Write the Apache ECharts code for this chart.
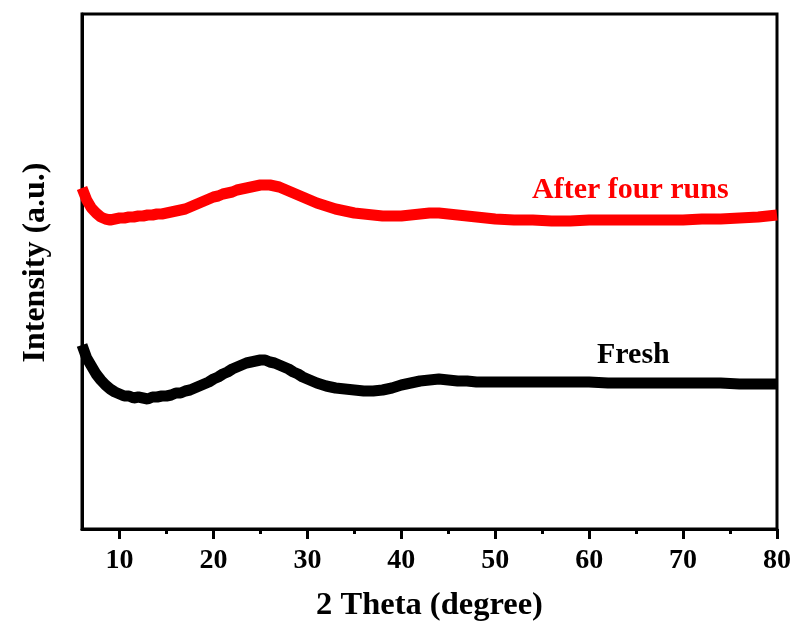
<!DOCTYPE html>
<html>
<head>
<meta charset="utf-8">
<script src="https://cdn.jsdelivr.net/npm/echarts@6/dist/echarts.min.js"></script>
<style>html,body{margin:0;padding:0;background:#fff;}#c{width:795px;height:628px;}</style>
</head>
<body>
<div id="c"></div>
<script>
// 2 Theta (degree)
const freshX = [6,6.5,7,7.5,8,8.5,9,9.5,10,10.5,11,11.5,12,12.5,13,13.5,14,14.5,15,15.5,16,16.5,17,17.5,18,18.5,19,19.5,20,20.5,21,21.5,22,22.5,23,23.5,24,24.5,25,25.5,26,26.5,27,27.5,28,28.5,29,29.5,30,30.5,31,32,33,34,35,36,37,38,39,40,41,42,43,44,45,46,47,48,50,52,54,56,58,60,62,64,66,68,70,72,74,76,78,80];
const freshY = [184,171,163,155,149,144,140,137,135,133,133,131,132,131,130,132,132,133,133,134,136,136,138,139,141,143,145,147,150,152,155,157,160,162,164,166,167,168,169,169,167,166,164,162,160,157,155,152,150,148,146,143,141,140,139,138,138,139,141,144,146,148,149,150,149,148,148,147,147,147,147,147,147,147,146,146,146,146,146,146,146,145,145,145];
const afterX = [6,6.5,7,7.5,8,8.5,9,9.5,10,10.5,11,11.5,12,12.5,13,13.5,14,14.5,15,15.5,16,16.5,17,17.5,18,18.5,19,19.5,20,20.5,21,21.5,22,22.5,23,23.5,24,24.5,25,25.5,26,26.5,27,27.5,28,28.5,29,29.5,30,30.5,31,32,33,34,35,36,37,38,39,40,41,42,43,44,45,46,47,48,49,50,52,54,56,58,60,62,64,66,68,70,72,74,76,78,80];
const afterY = [341,329,321,316,312,310,309,310,311,311,312,312,313,313,314,314,315,315,316,317,318,319,320,322,324,326,328,330,332,333,335,336,337,339,340,341,342,343,344,344,344,343,342,340,338,336,334,332,330,328,326,323,320,318,316,315,314,313,313,313,314,315,316,316,315,314,313,312,311,310,309,309,308,308,309,309,309,309,309,309,310,310,311,312,314];
const majorTicks = [10,20,30,40,50,60,70,80];
const minorTicks = [15,25,35,45,55,65,75];
const seriesNames = ['Fresh','After four runs'];

const FONT = '"Liberation Serif","Times New Roman",serif';
const pair = (xs, ys) => xs.map((x, i) => [x, ys[i]]);

const chart = echarts.init(document.getElementById('c'), null, {renderer: 'canvas'});
chart.setOption({
  animation: false,
  backgroundColor: '#fff',
  grid: {left: 82, right: 18, top: 14, bottom: 99, show: true, borderColor: '#000', borderWidth: 3, backgroundColor: 'transparent'},
  xAxis: [{
    type: 'value', min: 6, max: 80, position: 'bottom',
    axisLine: {show: true, lineStyle: {color: '#000', width: 3}},
    axisTick: {show: true, customValues: majorTicks, length: 10, inside: false, lineStyle: {color: '#000', width: 3}},
    axisLabel: {show: true, customValues: majorTicks, margin: 18, color: '#000', fontSize: 28, fontWeight: 'bold', fontFamily: FONT},
    splitLine: {show: false},
    name: '2 Theta (degree)', nameLocation: 'middle', nameGap: 60,
    nameTextStyle: {color: '#000', fontSize: 32.5, fontWeight: 'bold', fontFamily: FONT}
  }, {
    type: 'value', min: 6, max: 80, position: 'bottom',
    axisLine: {show: false},
    axisTick: {show: true, customValues: minorTicks, length: 5, inside: false, lineStyle: {color: '#000', width: 3}},
    axisLabel: {show: false},
    splitLine: {show: false}
  }],
  yAxis: {
    type: 'value', min: 0, max: 515,
    axisLine: {show: true, lineStyle: {color: '#000', width: 3}},
    axisTick: {show: false}, axisLabel: {show: false}, splitLine: {show: false},
    name: 'Intensity (a.u.)', nameLocation: 'middle', nameGap: 30,
    nameTextStyle: {color: '#000', fontSize: 32, fontWeight: 'bold', fontFamily: FONT, padding: [0, 0, 0, 18]}
  },
  series: [{
    name: seriesNames[0], type: 'line', showSymbol: false, symbol: 'none',
    data: pair(freshX, freshY), lineStyle: {color: '#000', width: 11}, itemStyle: {color: '#000'}, z: 3
  }, {
    name: seriesNames[1], type: 'line', showSymbol: false, symbol: 'none',
    data: pair(afterX, afterY), lineStyle: {color: '#ff0000', width: 11}, itemStyle: {color: '#ff0000'}, z: 3
  }],
  graphic: [{
    type: 'text', left: 532, top: 175,
    style: {text: seriesNames[1], fill: '#ff0000', font: 'bold 30px ' + FONT}
  }, {
    type: 'text', left: 597, top: 340,
    style: {text: seriesNames[0], fill: '#000', font: 'bold 30px ' + FONT}
  }]
});
</script>
</body>
</html>
